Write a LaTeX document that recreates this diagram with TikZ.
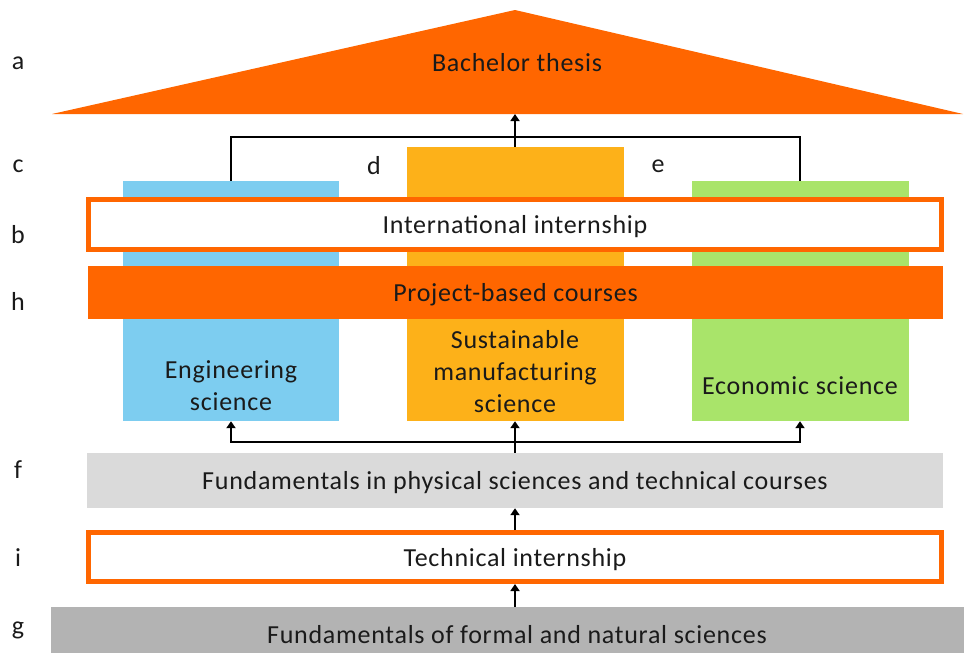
\documentclass[tikz,border=0pt]{standalone}
\usepackage{fontspec}
\setmainfont[LetterSpace=2.8]{Carlito}
\usetikzlibrary{arrows.meta}
\definecolor{orng}{HTML}{FF6600}
\definecolor{amber}{HTML}{FDB119}
\definecolor{skyb}{HTML}{7DCDF0}
\definecolor{lgreen}{HTML}{A9E46A}
\definecolor{lgray}{HTML}{DADADA}
\definecolor{mgray}{HTML}{B3B3B3}
\definecolor{txtc}{HTML}{1A1A1A}
\tikzset{
  txt/.style={font=\fontsize{26}{32}\selectfont, text=txtc, align=center, inner sep=0pt},
  colbox/.style={draw=none, inner sep=0pt, minimum width=216pt},
  band/.style={txt, draw=none, text depth=0pt},
  frame/.style={txt, draw=orng, line width=5pt, fill=white, text depth=0pt},
  conn/.style={line width=2pt, draw=black},
  arr/.style={conn, -{Triangle[width=9pt,length=7pt]}},
}
\begin{document}
\begin{tikzpicture}[x=1pt,y=-1pt]
\useasboundingbox (0,0) rectangle (964,653);
% roof
\fill[orng] (52,114) -- (515,10) -- (963,114) -- cycle;
\node[txt] (thesis) at (517,63) {Bachelor thesis};
\coordinate (roofbase) at (515,114);
% columns
\node[colbox, fill=skyb, minimum width=216pt, minimum height=240pt] (eng) at (231,301) {};
\node[colbox, fill=amber, minimum width=217pt, minimum height=274pt] (sus) at (515,284) {};
\node[colbox, fill=lgreen, minimum width=217pt, minimum height=240pt] (eco) at (800,301) {};
\node[txt] (engt) at (231,386) {Engineering\\science};
\node[txt] (sust) at (515,372) {Sustainable\\manufacturing\\science};
\node[txt] (ecot) at (800,386) {Economic science};
% bands
\node[frame, minimum width=853pt, minimum height=50pt] (intl) at (515,224.5) {International internship};
\node[band, fill=orng, minimum width=855pt, minimum height=53pt] (proj) at (515.5,292.5) {Project-based courses};
\node[band, fill=lgray, minimum width=856pt, minimum height=55pt] (phys) at (515,480.5) {Fundamentals in physical sciences and technical courses};
\node[frame, minimum width=853pt, minimum height=49pt] (tech) at (515,557) {Technical internship};
\node[band, fill=mgray, minimum width=932pt, minimum height=54pt] (formal) at (517,634) {Fundamentals of formal and natural sciences};
% connectors
\coordinate (topbar) at (515,137);
\draw[conn] (eng.north) |- (topbar) -| (eco.north);
\draw[arr] (sus.north) -- (roofbase);
\coordinate (split) at (515,442);
\draw[arr] (split) -| (eng.south);
\draw[arr] (split) -| (eco.south);
\draw[arr] (phys.north) -- (sus.south);
\draw[arr] (tech.north) -- (phys.south);
\draw[arr] (tech.south |- formal.north) -- (tech.south);
% labels
\node[txt] (la) at (18,63) {a};
\node[txt] (lc) at (18,166) {c};
\node[txt] (lb) at (18,235) {b};
\node[txt] (lh) at (18,301) {h};
\node[txt] (lf) at (18,470) {f};
\node[txt] (li) at (18,558) {i};
\node[txt] (lg) at (18,630) {g};
\node[txt] (ld) at (374,166) {d};
\node[txt] (le) at (658,166) {e};
\end{tikzpicture}
\end{document}
